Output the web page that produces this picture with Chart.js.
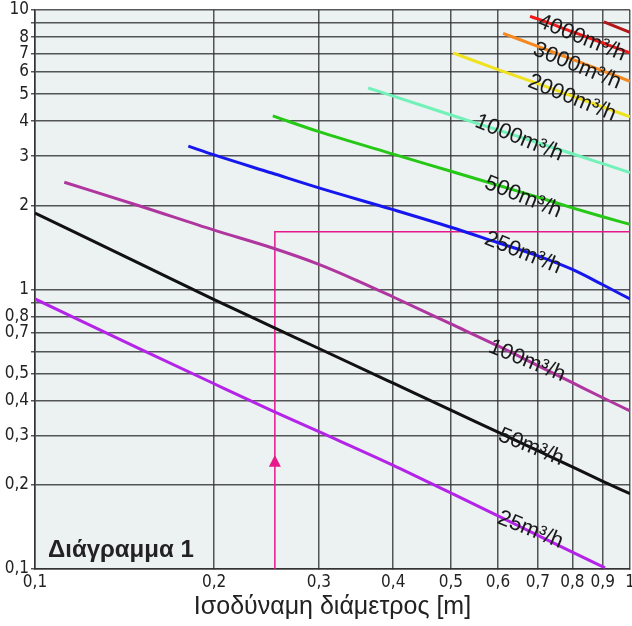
<!DOCTYPE html>
<html>
<head>
<meta charset="utf-8">
<script src="https://cdn.jsdelivr.net/npm/chart.js@4/dist/chart.umd.min.js"></script>
<style>
  html,body{margin:0;padding:0;background:#fff;}
  #wrap{width:632px;height:626px;}
</style>
</head>
<body>
<div id="wrap"><canvas id="chart" width="632" height="626"></canvas></div>
<script>
// axis ticks
const xTicks = [0.1,0.2,0.3,0.4,0.5,0.6,0.7,0.8,0.9,1];
const xTickLabels = ["0,1","0,2","0,3","0,4","0,5","0,6","0,7","0,8","0,9","1"];
const yTicks = [0.1,0.2,0.3,0.4,0.5,0.6,0.7,0.8,0.9,1,2,3,4,5,6,7,8,9,10];
const yTickLabels = ["0,1","0,2","0,3","0,4","0,5","","0,7","0,8","","1","2","3","4","5","6","7","8","","10"];

// curves: diameter [m] -> value, per flow rate
const d25 = [0.1,0.15,0.2,0.25,0.3,0.4,0.5,0.6,0.7,0.8,0.908];
const q25 = [0.925,0.613,0.460,0.369,0.310,0.235,0.187,0.155,0.132,0.115,0.101];
const d50 = [0.1,0.15,0.2,0.25,0.3,0.4,0.5,0.6,0.7,0.8,0.9,1];
const q50 = [1.878,1.238,0.920,0.737,0.615,0.462,0.370,0.309,0.265,0.232,0.206,0.186];
const d100 = [0.112,0.15,0.2,0.25,0.3,0.35,0.4,0.5,0.6,0.7,0.8,0.9,1];
const q100 = [2.42,1.99,1.63,1.41,1.23,1.07,0.94,0.753,0.628,0.534,0.464,0.410,0.368];
const d250 = [0.181,0.2,0.25,0.3,0.4,0.5,0.6,0.7,0.8,0.9,1];
const q250 = [3.26,3.03,2.61,2.31,1.93,1.67,1.47,1.32,1.18,1.04,0.925];
const d500 = [0.251,0.3,0.4,0.5,0.6,0.7,0.8,0.9,1];
const q500 = [4.18,3.67,3.05,2.65,2.36,2.14,1.96,1.82,1.71];
const d1000 = [0.363,0.4,0.5,0.6,0.7,0.8,0.9,1];
const q1000 = [5.26,4.92,4.21,3.72,3.35,3.06,2.82,2.62];
const d2000 = [0.504,0.6,0.7,0.8,0.9,1];
const q2000 = [7.02,6.12,5.45,4.92,4.50,4.15];
const d3000 = [0.612,0.7,0.8,0.9,1];
const q3000 = [8.25,7.41,6.66,6.06,5.56];
const d4000 = [0.679,0.7,0.8,0.9,1];
const q4000 = [9.49,9.29,8.36,7.62,7.02];
const d5000 = [0.904,1];
const q5000 = [9.06,8.31];

// example reading (pink arrow)
const arrowX = [0.253,0.253,1];
const arrowY = [0.1,1.61,1.61];

const curveNames = ["25","50","100","250","500","1000","2000","3000","4000",""];
const curveD = [d25,d50,d100,d250,d500,d1000,d2000,d3000,d4000,d5000];
const curveQ = [q25,q50,q100,q250,q500,q1000,q2000,q3000,q4000,q5000];
const curveColors = ["#b423e8","#111111","#b0369f","#1616ee","#25c814","#72f2b8","#f0e21c","#f5881f","#ef1a1a","#b21616"];

// label anchors (data coords)
const labelX = [0.680,0.682,0.671,0.661,0.661,0.651,0.799,0.815,0.830];
const labelY = [0.138,0.273,0.555,1.351,2.14,3.48,4.84,6.30,7.94];

const pts = (xs, ys) => xs.map((x,i)=>({x:x, y:ys[i]}));

const datasets = curveD.map((d,i)=>({
  label: curveNames[i],
  data: pts(d, curveQ[i]),
  borderColor: curveColors[i],
  borderWidth: 3,
  pointRadius: 0,
  showLine: true,
  cubicInterpolationMode: "monotone"
}));
datasets.push({
  label: "arrow",
  data: pts(arrowX, arrowY),
  borderColor: "#e6188a",
  borderWidth: 1.5,
  pointRadius: 0,
  showLine: true,
  tension: 0
});

const numFont = "'DejaVu Sans Condensed','Liberation Sans Narrow','Liberation Sans',Arial,sans-serif";

const bgPlugin = {
  id: "bg",
  beforeDraw(c){
    const {ctx, chartArea:a} = c;
    ctx.save();
    ctx.fillStyle = "#fff";
    ctx.fillRect(0,0,c.width,c.height);
    ctx.fillStyle = "#ecf1f2";
    ctx.fillRect(a.left,a.top,a.right-a.left,a.bottom-a.top);
    ctx.restore();
  }
};

const labelPlugin = {
  id: "labels",
  afterDatasetsDraw(c){
    const {ctx, chartArea:a} = c;
    const xs = c.scales.x, ys = c.scales.y;
    ctx.save();
    // arrow head
    const ax = xs.getPixelForValue(arrowX[0]);
    const tip = ys.getPixelForValue(0.256), base = ys.getPixelForValue(0.232);
    ctx.fillStyle = "#e6188a";
    ctx.beginPath();
    ctx.moveTo(ax, tip); ctx.lineTo(ax-6, base); ctx.lineTo(ax+6, base); ctx.closePath();
    ctx.fill();
    // curve labels
    ctx.fillStyle = "#1a1a1a";
    ctx.font = "22px 'Liberation Sans',Arial,sans-serif";
    ctx.textAlign = "center";
    ctx.textBaseline = "middle";
    labelX.forEach((lx,i)=>{
      ctx.save();
      ctx.translate(xs.getPixelForValue(lx), ys.getPixelForValue(labelY[i]));
      ctx.rotate(22*Math.PI/180);
      ctx.fillText(curveNames[i]+"m³/h",0,0);
      ctx.restore();
    });
    // diagram tag
    ctx.font = "bold 24px 'Liberation Sans',Arial,sans-serif";
    ctx.textAlign = "left";
    ctx.textBaseline = "alphabetic";
    ctx.fillStyle = "#222";
    ctx.fillText("Διάγραμμα 1", a.left+13, a.bottom-12);
    ctx.restore();
  }
};

new Chart(document.getElementById("chart"), {
  type: "scatter",
  data: {datasets},
  options: {
    responsive: false,
    animation: false,
    layout: {padding: {top: 10, right: 2, left: 0, bottom: 0}},
    plugins: {legend: {display: false}, tooltip: {enabled: false}},
    scales: {
      x: {
        type: "logarithmic", min: 0.1, max: 1,
        afterBuildTicks: s => { s.ticks = xTicks.map(v=>({value:v})); },
        afterFit: s => { s.height = 57; s.paddingLeft = 0; s.paddingRight = 0; },
        ticks: {autoSkip: false, maxRotation: 0, padding: 3, color: "#222",
          font: {family: numFont, size: 17},
          callback: (v,i) => xTickLabels[i]},
        grid: {color: "rgba(45,45,45,0.8)", lineWidth: 1.5, tickLength: 0},
        border: {color: "#333", width: 1.5},
        title: {display: true, text: "Ισοδύναμη διάμετρος [m]", color: "#222",
          font: {family: "'Liberation Sans',Arial,sans-serif", size: 25}, padding: {top: 0, bottom: 4}}
      },
      y: {
        type: "logarithmic", min: 0.1, max: 10,
        afterBuildTicks: s => { s.ticks = yTicks.map(v=>({value:v})); },
        afterFit: s => { s.width = 35; s.paddingTop = 0; s.paddingBottom = 0; },
        ticks: {autoSkip: false, padding: 2, color: "#222",
          font: {family: numFont, size: 17},
          callback: (v,i) => yTickLabels[i]},
        grid: {color: "rgba(45,45,45,0.8)", lineWidth: 1.5, tickLength: 4},
        border: {color: "#333", width: 1.5}
      }
    }
  },
  plugins: [bgPlugin, labelPlugin]
});
</script>
</body>
</html>
